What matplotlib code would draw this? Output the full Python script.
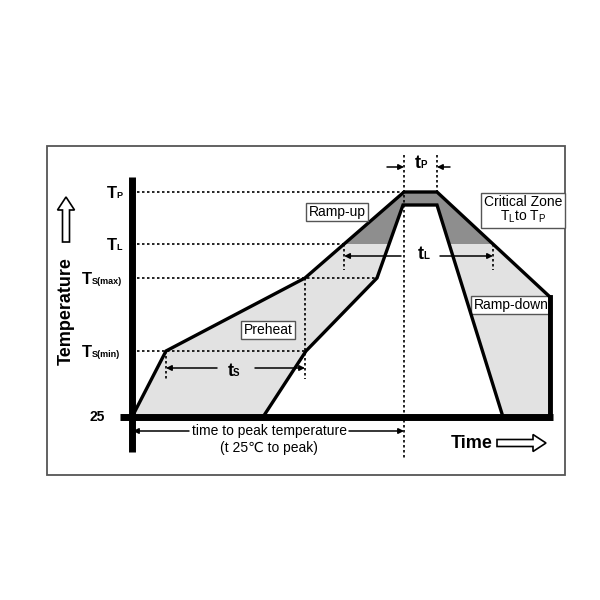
import numpy as np
import matplotlib
matplotlib.use("Agg")
import matplotlib.pyplot as plt
from matplotlib.patches import Rectangle, FancyArrow

plt.rcParams['font.family'] = ['Liberation Sans', 'DejaVu Sans']
plt.rcParams['mathtext.fontset'] = 'custom'
plt.rcParams['mathtext.rm'] = 'Liberation Sans'
plt.rcParams['mathtext.bf'] = 'Liberation Sans:bold'
plt.rcParams['mathtext.it'] = 'Liberation Sans:italic'

# schematic temperature levels (height above the 25 line)
level_subs = ['P', 'L', 'S(max)', 'S(min)']
level_values = [225, 173, 139, 66]
TP, TL, TSMAX, TSMIN = level_values

# reflow profile envelope (schematic time, level)
outer_time = [0, 34, 173, 272, 305, 418, 418]
outer_temp = [0, 66, 139, 225, 225, 120, 0]
inner_time = [131, 174, 245, 271, 305, 371]
inner_temp = [0, 66, 139, 212, 212, 0]

fig = plt.figure(figsize=(6, 6), dpi=100)
ax = fig.add_axes([0, 0, 1, 1])
ax.set_xlim(-132, 468)
ax.set_ylim(-183, 417)
ax.axis('off')


def sub_label(x, base, main, sub, size=12, sub_size=6.5, main_w=0.611):
    """Bold letter with a small bold subscript, left edge at x."""
    ax.text(x, base, main, ha='left', va='baseline', fontsize=size, fontweight='bold')
    ax.annotate(sub, xy=(x, base), xytext=(main_w * size - 0.6, 0),
                textcoords='offset points', ha='left', va='baseline',
                fontsize=sub_size, fontweight='bold')


# outer frame
ax.add_patch(Rectangle((-85, -58), 518, 329, fill=False, ec='#555555', lw=1.3))

# shaded zones
poly_t = outer_time + inner_time[::-1]
poly_v = outer_temp + inner_temp[::-1]
ax.fill(poly_t, poly_v, color='#e2e2e2', lw=0, zorder=1)
dark = ax.fill(poly_t, poly_v, color='#8e8e8e', lw=0, zorder=1.5)[0]
clip = Rectangle((-50, TL), 600, 200, transform=ax.transData)
dark.set_clip_path(clip)

# where the outer curve crosses TL
up_t, up_v = outer_time[2:4], outer_temp[2:4]
dn_t, dn_v = outer_time[4:6], outer_temp[4:6]
tl_left = np.interp(TL, up_v, up_t)
tl_right = np.interp(TL, dn_v[::-1], dn_t[::-1])

dot = dict(color='black', lw=1.2, ls=(0, (1.5, 1.5)), zorder=2)
ax.plot([0, outer_time[3]], [TP, TP], **dot)
ax.plot([0, tl_left], [TL, TL], **dot)
ax.plot([0, inner_time[2]], [TSMAX, TSMAX], **dot)
ax.plot([0, inner_time[1]], [TSMIN, TSMIN], **dot)
ax.plot([outer_time[1]] * 2, [TSMIN, 38], **dot)
ax.plot([outer_time[2]] * 2, [TSMAX, 38], **dot)
ax.plot([tl_left] * 2, [TL, 147], **dot)
ax.plot([tl_right] * 2, [TL, 147], **dot)
ax.plot([outer_time[3]] * 2, [262, -42], **dot)
ax.plot([outer_time[4]] * 2, [262, TP], **dot)

# profile lines
ax.plot(outer_time, outer_temp, color='black', lw=2.4, solid_joinstyle='miter', zorder=3)
ax.plot(inner_time, inner_temp, color='black', lw=2.4, solid_joinstyle='miter', zorder=3)
ax.plot([outer_time[-1]] * 2, [outer_temp[-2], 0], color='black', lw=3.5, zorder=3)

# axes
ax.plot([0, 0], [-35, 240], color='black', lw=5, solid_capstyle='butt', zorder=4)
ax.plot([-12, 421], [0, 0], color='black', lw=5, solid_capstyle='butt', zorder=4)

# level labels
for sub, v in zip(level_subs, level_values):
    x = -25 if len(sub) == 1 else -50
    sub_label(x, v - 6, 'T', sub)
ax.text(-27, 0, '25', ha='right', va='center', fontsize=10, fontweight='bold')

# dimension arrows
def dim(x0, x1, v):
    ax.annotate('', xy=(x1, v), xytext=(x0, v),
                arrowprops=dict(arrowstyle='-|>', color='black', lw=1.1,
                                mutation_scale=8, shrinkA=0, shrinkB=0), zorder=5)

dim(85, outer_time[1], 49)
dim(123, outer_time[2], 49)
sub_label(96, 41, 't', 'S', size=13, sub_size=7, main_w=0.333)

dim(269, tl_left, 161)
dim(308, tl_right, 161)
sub_label(286, 158, 't', 'L', size=13, sub_size=7, main_w=0.333)

dim(255, outer_time[3], 250)
dim(318, outer_time[4], 250)
sub_label(283, 249, 't', 'P', size=13, sub_size=7, main_w=0.333)

dim(57, 1, -14)
dim(217, outer_time[3], -14)
ax.text(137, -14, 'time to peak temperature', ha='center', va='center', fontsize=10)
ax.text(137, -31, '(t 25\u2103 to peak)', ha='center', va='center', fontsize=10)

# boxed captions
box = dict(boxstyle='square,pad=0.15', fc='white', ec='#555555', lw=1)
ax.text(205, 205, 'Ramp-up', ha='center', va='center', fontsize=10, bbox=box, zorder=6)
ax.text(136, 87, 'Preheat', ha='center', va='center', fontsize=10, bbox=box, zorder=6)
ax.text(379, 112, 'Ramp-down', ha='center', va='center', fontsize=10, bbox=box, zorder=2.5)
ax.text(391, 207, 'Critical Zone\nT$_{\\rm L}$to T$_{\\rm P}$', ha='center', va='center',
        fontsize=10, linespacing=1.0, bbox=dict(boxstyle='square,pad=0.2', fc='white',
                                                ec='#555555', lw=1), zorder=6)

# axis titles with hollow arrows
ax.text(-66, 106, 'Temperature', rotation=90, ha='center', va='center',
        fontsize=13, fontweight='bold')
ax.add_patch(FancyArrow(-66, 175, 0, 45, width=7, head_width=17, head_length=13,
                        length_includes_head=True, fc='white', ec='black', lw=1.2))
ax.text(340, -26, 'Time', ha='center', va='center', fontsize=13, fontweight='bold')
ax.add_patch(FancyArrow(365, -26, 49, 0, width=7, head_width=17, head_length=13,
                        length_includes_head=True, fc='white', ec='black', lw=1.2))

fig.savefig('out.png', dpi=100)
